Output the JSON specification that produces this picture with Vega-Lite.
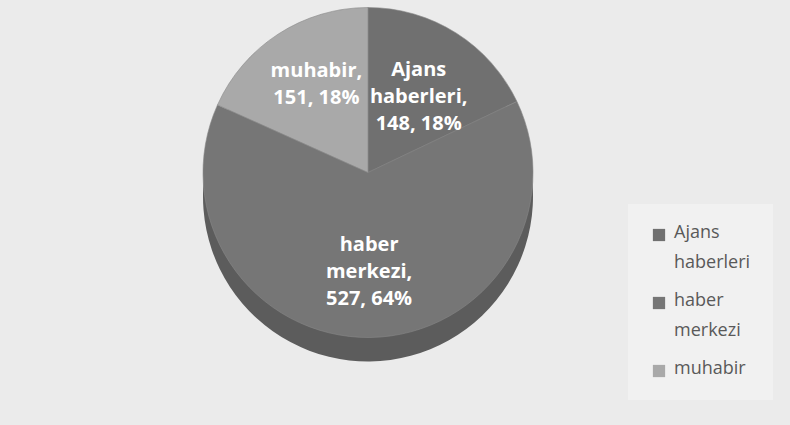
{
  "$schema": "https://vega.github.io/schema/vega-lite/v6.json",
  "width": 736,
  "height": 345,
  "padding": {"left": 0, "top": 0, "right": 54, "bottom": 80},
  "autosize": "none",
  "background": "#ebebeb",
  "config": {"view": {"stroke": null}, "style": {"guide-label": {"lineHeight": 30, "dy": -11}}},
  "data": {"values": [
    {"kategori": "Ajans haberleri", "sayi": 148, "etiket": ["Ajans", "haberleri,", "148, 18%"]},
    {"kategori": "haber merkezi", "sayi": 527, "etiket": ["haber", "merkezi,", "527, 64%"]},
    {"kategori": "muhabir", "sayi": 151, "etiket": ["muhabir,", "151, 18%"]}
  ]},
  "layer": [
    {
      "mark": {"type": "arc", "outerRadius": 165, "yOffset": 24, "color": "#5c5c5c"},
      "encoding": {
        "theta": {"field": "sayi", "type": "quantitative", "stack": true},
        "order": {"field": "kategori"}
      }
    },
    {
      "mark": {"type": "arc", "outerRadius": 165, "stroke": "#888888", "strokeWidth": 0.6},
      "encoding": {
        "theta": {"field": "sayi", "type": "quantitative", "stack": true},
        "order": {"field": "kategori"},
        "color": {
          "field": "kategori", "type": "nominal",
          "scale": {"domain": ["Ajans haberleri", "haber merkezi", "muhabir"], "range": ["#707070", "#767676", "#a9a9a9"]},
          "legend": {
            "title": null, "orient": "none", "legendX": 628, "legendY": 204,
            "fillColor": "#f1f1f1", "padding": 22,
            "symbolType": "square", "symbolSize": 150, "symbolStrokeWidth": 0,
            "labelFont": "Open Sans", "labelFontSize": 18, "labelColor": "#595959",
            "labelExpr": "split(datum.label, ' ')", "labelLimit": 200,
            "rowPadding": 20, "labelBaseline": "top", "labelOffset": 6
          }
        }
      }
    },
    {
      "mark": {"type": "text", "radius": 95, "yOffset": -22, "font": "Open Sans", "fontWeight": "bold", "fontSize": 20, "color": "white", "lineHeight": 27},
      "encoding": {
        "theta": {"field": "sayi", "type": "quantitative", "stack": true},
        "order": {"field": "kategori"},
        "text": {"field": "etiket"}
      }
    }
  ]
}
